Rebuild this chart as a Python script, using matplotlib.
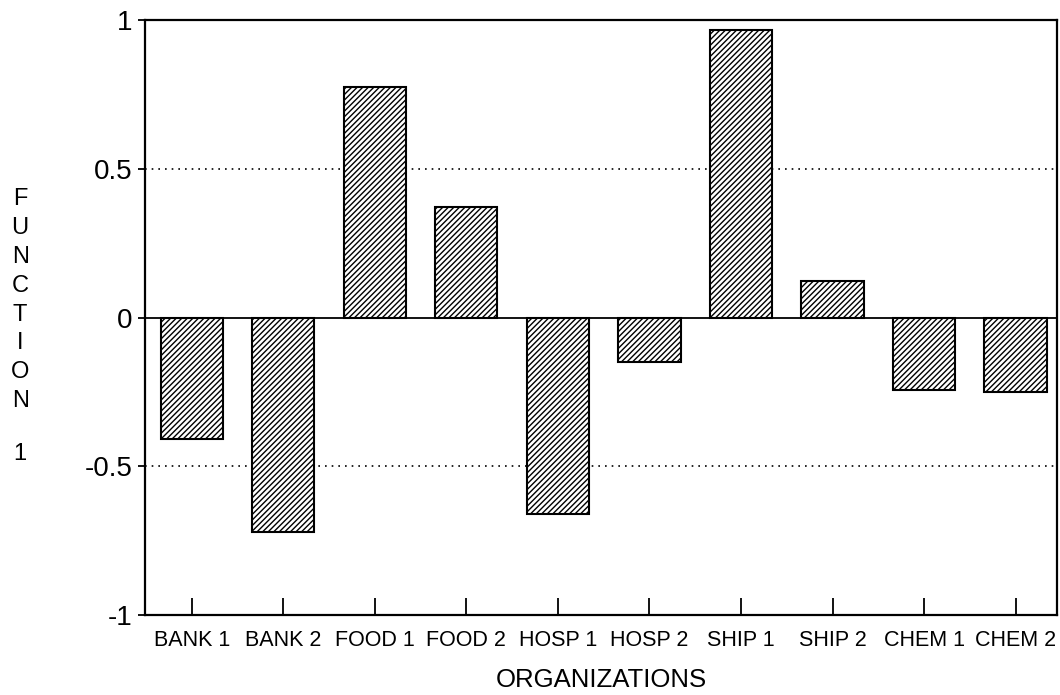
import matplotlib
matplotlib.use("Agg")
import matplotlib.pyplot as plt
import numpy as np

plt.rcParams["font.family"] = ["Liberation Sans", "DejaVu Sans"]
plt.rcParams["hatch.linewidth"] = 1.0

organizations = ["BANK 1", "BANK 2", "FOOD 1", "FOOD 2", "HOSP 1",
                 "HOSP 2", "SHIP 1", "SHIP 2", "CHEM 1", "CHEM 2"]
function_1 = [-0.41, -0.72, 0.775, 0.37, -0.66, -0.148, 0.966, 0.124, -0.245, -0.252]
y_ticks = [-1, -0.5, 0, 0.5, 1]
y_tick_labels = ["-1", "-0.5", "0", "0.5", "1"]

fig = plt.figure(figsize=(10.6, 6.95), dpi=100)
ax = fig.add_axes([0.1368, 0.1151, 0.997 - 0.1368, 0.9712 - 0.1151])

x = np.arange(len(organizations))
ax.bar(x, function_1, width=0.68, color="white", edgecolor="black",
       linewidth=1.5, hatch="//////", zorder=3)

ax.axhline(0, color="black", linewidth=1.3, zorder=4)
for yv in (-0.5, 0.5):
    ax.axhline(yv, color="black", linewidth=1.2, linestyle=(0, (1, 3)), zorder=1)

ax.set_xlim(-0.51, 9.45)
ax.set_ylim(-1, 1)
ax.set_xticks(x)
ax.set_xticklabels(organizations, fontsize=15.5)
ax.set_yticks(y_ticks)
ax.set_yticklabels(y_tick_labels, fontsize=20)

ax.tick_params(axis="x", direction="in", length=12, width=1.3, pad=11)
ax.tick_params(axis="y", direction="out", length=5, width=1.3, pad=4)
for spine in ax.spines.values():
    spine.set_linewidth(1.6)

ax.set_xlabel("ORGANIZATIONS", fontsize=18.5, labelpad=12)
fig.text(0.019, 0.568, "F\nU\nN\nC\nT\nI\nO\nN", fontsize=17,
         ha="center", va="center", linespacing=1.4)
fig.text(0.019, 0.347, "1", fontsize=17, ha="center", va="center")

fig.savefig("out.png", dpi=100)
